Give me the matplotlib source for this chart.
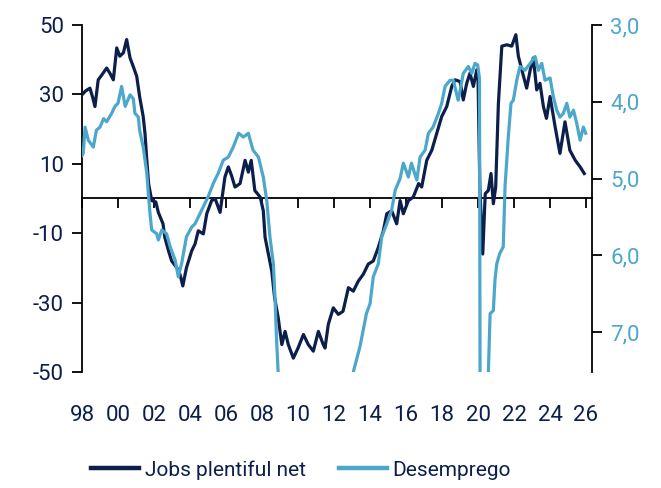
import numpy as np
import matplotlib
matplotlib.use("Agg")
import matplotlib.pyplot as plt

plt.rcParams['font.family'] = ['Roboto', 'DejaVu Sans']
plt.rcParams['axes.unicode_minus'] = False

navy = '#0c1f4b'
light = '#4da7cb'

# Jobs plentiful net (left axis)
jobs_t = [1998.0, 1998.2, 1998.44, 1998.6, 1998.72, 1998.9, 1999.1, 1999.37, 1999.55, 1999.74,
          1999.93, 2000.1, 2000.3, 2000.48, 2000.67, 2000.85, 2001.04, 2001.2, 2001.4, 2001.5,
          2001.6, 2001.7, 2001.87, 2002.1, 2002.24, 2002.5, 2002.6, 2002.8, 2002.98, 2003.26,
          2003.45, 2003.6, 2003.8, 2004.1, 2004.28, 2004.46, 2004.74, 2004.93, 2005.2, 2005.4,
          2005.67, 2005.94, 2006.13, 2006.3, 2006.5, 2006.78, 2007.06, 2007.24, 2007.4, 2007.6,
          2007.9, 2008.07, 2008.17, 2008.35, 2008.54, 2008.7, 2008.9, 2009.1, 2009.28, 2009.46,
          2009.74, 2010.0, 2010.3, 2010.57, 2010.85, 2011.13, 2011.4, 2011.5, 2011.68, 2011.96,
          2012.24, 2012.5, 2012.8, 2013.07, 2013.35, 2013.63, 2013.9, 2014.18, 2014.46, 2014.74,
          2014.93, 2015.2, 2015.48, 2015.67, 2015.85, 2016.13, 2016.4, 2016.7, 2016.87, 2017.15,
          2017.43, 2017.7, 2017.98, 2018.26, 2018.54, 2018.72, 2019.0, 2019.18, 2019.37, 2019.55,
          2019.74, 2019.93, 2020.0, 2020.1, 2020.26, 2020.4, 2020.57, 2020.72, 2020.85, 2020.98,
          2021.13, 2021.32, 2021.6, 2021.87, 2022.1, 2022.24, 2022.43, 2022.7, 2022.9, 2023.07,
          2023.26, 2023.44, 2023.63, 2023.8, 2024.0, 2024.28, 2024.55, 2024.83, 2025.1, 2025.4,
          2025.67, 2025.9]
jobs_v = [29.9, 31.0, 31.8, 29.0, 26.5, 34.2, 35.6, 37.6, 36.1, 34.2,
          43.4, 41.0, 42.0, 45.8, 40.5, 38.0, 35.2, 29.4, 23.6, 18.7,
          11.0, 4.3, -0.6, -1.0, -4.0, -7.3, -11.2, -15.0, -18.0, -19.9,
          -22.0, -25.2, -20.0, -15.0, -13.1, -9.3, -10.2, -4.4, -0.6, -0.1,
          -4.0, 6.2, 9.1, 6.7, 3.3, 4.3, 11.0, 7.6, 11.0, 2.3,
          0.4, -3.5, -11.2, -16.0, -20.9, -28.6, -34.4, -42.1, -38.3, -42.1,
          -46.0, -43.1, -39.2, -42.1, -44.0, -38.3, -42.1, -43.1, -36.3, -31.5,
          -33.4, -32.5, -25.7, -26.7, -23.8, -21.8, -18.9, -18.0, -14.1, -9.3,
          -4.4, -3.5, -7.3, -0.6, -4.4, -0.6, 0.4, 4.3, 3.3, 11.0,
          13.9, 18.7, 23.6, 26.5, 32.3, 34.2, 33.7, 28.4, 33.2, 36.1,
          32.3, 37.1, 34.2, 3.3, -16.0, 1.4, 2.3, 7.2, -1.5, 3.3,
          27.4, 43.9, 44.3, 43.9, 47.2, 41.0, 37.1, 31.8, 37.1, 40.5,
          31.3, 33.2, 26.5, 23.1, 29.4, 20.7, 13.0, 22.1, 13.9, 11.0,
          9.1, 7.2]

# Desemprego (right axis, inverted)
unemp_t = [1998.0, 1998.07, 1998.17, 1998.35, 1998.63, 1998.8, 1999.0, 1999.2, 1999.37, 1999.65,
           1999.83, 2000.0, 2000.2, 2000.4, 2000.67, 2000.85, 2000.94, 2001.13, 2001.2, 2001.4,
           2001.6, 2001.7, 2001.78, 2001.87, 2002.15, 2002.24, 2002.43, 2002.7, 2002.9, 2003.17,
           2003.35, 2003.54, 2003.8, 2004.1, 2004.28, 2004.65, 2005.0, 2005.3, 2005.57, 2005.85,
           2006.13, 2006.4, 2006.7, 2006.96, 2007.24, 2007.5, 2007.8, 2008.07, 2008.26, 2008.44,
           2008.63, 2008.72, 2008.8, 2008.9, 2009.2, 2009.5, 2009.8, 2010.3, 2010.8, 2011.3,
           2011.8, 2012.3, 2012.8, 2013.07, 2013.44, 2013.8, 2014.0, 2014.18, 2014.46, 2014.65,
           2014.93, 2015.2, 2015.4, 2015.67, 2015.85, 2016.13, 2016.3, 2016.6, 2016.78, 2017.06,
           2017.24, 2017.5, 2017.8, 2017.98, 2018.17, 2018.44, 2018.63, 2018.8, 2018.9, 2019.18,
           2019.46, 2019.65, 2019.83, 2019.98, 2020.08, 2020.17, 2020.35, 2020.5, 2020.57, 2020.67,
           2020.85, 2020.94, 2021.04, 2021.2, 2021.4, 2021.5, 2021.68, 2021.83, 2021.96, 2022.15,
           2022.33, 2022.6, 2022.9, 2023.17, 2023.35, 2023.54, 2023.72, 2024.0, 2024.18, 2024.37,
           2024.55, 2024.74, 2024.93, 2025.1, 2025.3, 2025.48, 2025.67, 2025.85, 2025.98]
unemp_v = [4.70, 4.67, 4.33, 4.50, 4.59, 4.37, 4.33, 4.22, 4.26, 4.15,
           4.06, 4.02, 3.80, 4.06, 3.91, 3.96, 4.15, 4.20, 4.37, 4.59,
           4.93, 5.24, 5.46, 5.67, 5.72, 5.80, 5.67, 5.72, 5.89, 6.06,
           6.28, 6.10, 5.76, 5.63, 5.59, 5.41, 5.24, 5.06, 4.93, 4.76,
           4.72, 4.59, 4.41, 4.46, 4.41, 4.63, 4.72, 4.98, 5.28, 5.76,
           6.11, 6.54, 7.06, 7.54, 8.7, 9.5, 10.0, 9.8, 9.5, 9.0,
           8.6, 8.2, 7.8, 7.52, 7.19, 6.76, 6.63, 6.28, 6.11, 5.76,
           5.59, 5.41, 5.15, 5.00, 4.80, 4.98, 4.80, 5.02, 4.72, 4.63,
           4.41, 4.33, 4.15, 4.02, 3.80, 3.72, 3.72, 3.89, 3.98, 3.63,
           3.54, 3.63, 3.50, 3.52, 3.70, 14.7, 11.0, 8.5, 7.55, 6.76,
           6.72, 6.32, 6.11, 5.98, 5.89, 5.10, 4.46, 4.02, 3.98, 3.72,
           3.54, 3.59, 3.50, 3.41, 3.59, 3.50, 3.72, 3.69, 3.93, 4.11,
           4.20, 4.15, 4.02, 4.20, 4.11, 4.28, 4.50, 4.33, 4.41]

xticks = list(range(1998, 2027, 2))
xlabels = ['%02d' % (y % 100) for y in xticks]
left_ticks = [-50, -30, -10, 10, 30, 50]
right_ticks = [3.0, 4.0, 5.0, 6.0, 7.0]
right_labels = ['3,0', '4,0', '5,0', '6,0', '7,0']

fig = plt.figure(figsize=(6.61, 4.88), dpi=100)
ax = fig.add_axes([82/661, 1-372/488, 510/661, 347/488])
ax2 = ax.twinx()

ax.plot(jobs_t, jobs_v, color=navy, lw=2.3, label='Jobs plentiful net', zorder=3)
ax2.plot(unemp_t, unemp_v, color=light, lw=2.3, label='Desemprego', zorder=3)

ax.set_xlim(1998, 2026.33)
ax.set_ylim(-50, 50)
ax2.set_ylim(7.52, 3.0)

for s in ['top', 'right']:
    ax.spines[s].set_visible(False)
for s in ['top', 'left', 'bottom']:
    ax2.spines[s].set_visible(False)
ax.spines['bottom'].set_position(('data', 0))
for sp in [ax.spines['left'], ax.spines['bottom'], ax2.spines['right']]:
    sp.set_linewidth(1.3)
    sp.set_color('black')

ax.set_xticks(xticks)
ax.set_xticklabels(xlabels)
ax.set_yticks(left_ticks)
ax.set_yticklabels([str(v) for v in left_ticks])
ax2.set_yticks(right_ticks)
ax2.set_yticklabels(right_labels)

ax.tick_params(axis='x', direction='out', length=7, width=1.3, pad=142,
               labelsize=16, labelcolor=navy)
ax.tick_params(axis='y', direction='out', length=7, width=1.3, pad=6,
               labelsize=16, labelcolor=navy)
ax2.tick_params(axis='y', direction='out', length=7, width=1.3, pad=6,
                labelsize=16, labelcolor=light)

h1, l1 = ax.get_legend_handles_labels()
h2, l2 = ax2.get_legend_handles_labels()
leg = fig.legend(h1 + h2, l1 + l2, loc='center', bbox_to_anchor=(301/661, 1-470/488),
                 ncol=2, frameon=False, fontsize=15, handlelength=2.3,
                 handletextpad=0.25, columnspacing=1.6)
for t in leg.get_texts():
    t.set_color(navy)
for h in leg.legend_handles:
    h.set_linewidth(3.2)

fig.savefig('out.png', dpi=100)
